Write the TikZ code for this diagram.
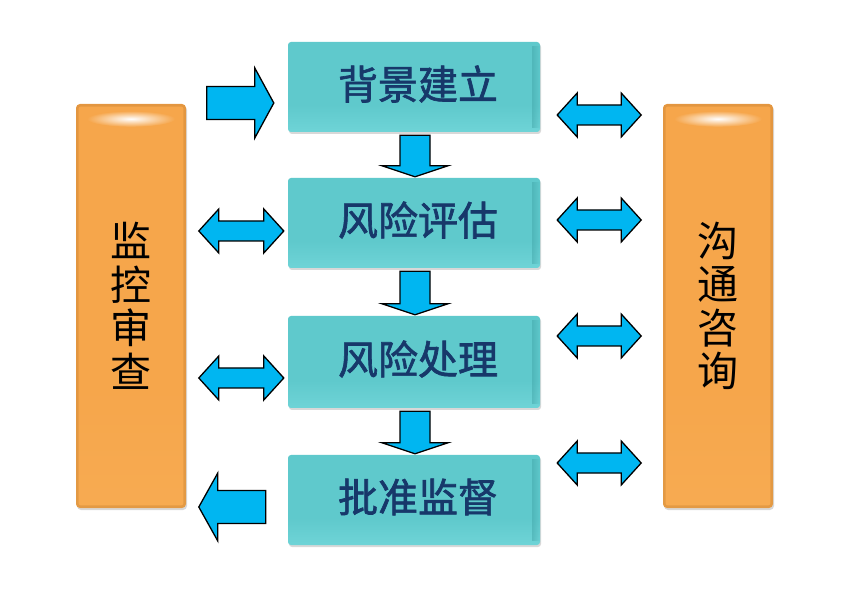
\documentclass[tikz,border=0pt]{standalone}
\usepackage{fontspec}
\newfontfamily\cjk{Noto Sans CJK SC}
\newfontfamily\cjkmed{Noto Sans CJK SC}[FakeBold=1.6]
\usetikzlibrary{calc,shadows,fadings}
\definecolor{arrblue}{HTML}{00B6F1}
\definecolor{navy}{HTML}{17386A}
\definecolor{bgA}{HTML}{9AEBEC}
\definecolor{bgB}{HTML}{7CDDE0}
\definecolor{bgC}{HTML}{5FC9CC}
\definecolor{bgD}{HTML}{B4F1F2}
\definecolor{bgE}{HTML}{3A9C9F}
\definecolor{ogA}{HTML}{FCC57A}
\definecolor{ogB}{HTML}{F8B15A}
\definecolor{ogC}{HTML}{F6A64B}
\definecolor{ogD}{HTML}{E2953F}
\definecolor{ogE}{HTML}{B87428}
\pgfdeclareverticalshading{bluegel}{100bp}{color(0bp)=(bgA); color(12bp)=(bgB); color(40bp)=(bgC); color(88bp)=(bgC); color(93bp)=(bgD); color(97bp)=(bgC); color(100bp)=(bgC)}
\pgfdeclareverticalshading{orangegel}{100bp}{color(0bp)=(ogA); color(6bp)=(ogB); color(40bp)=(ogC); color(96bp)=(ogC); color(100bp)=(ogD)}
\tikzfading[name=fuzzyglow, inner color=transparent!0, outer color=transparent!100]
\newcommand\dblarr[2]{\filldraw[blockarr] let \p1=(#1), \p2=(#2) in (\x1,\y1) -- (\x1+20pt,\y1+22pt) -- (\x1+20pt,\y1+10pt) -- (\x2-20pt,\y1+10pt) -- (\x2-20pt,\y1+22pt) -- (\x2,\y1) -- (\x2-20pt,\y1-22pt) -- (\x2-20pt,\y1-10pt) -- (\x1+20pt,\y1-10pt) -- (\x1+20pt,\y1-22pt) -- cycle;}
\newcommand\rarr[2]{\filldraw[blockarr] let \p1=(#1), \p2=(#2) in (\x1,\y1+16.5pt) -- (\x2-19pt,\y1+16.5pt) -- (\x2-19pt,\y1+35pt) -- (\x2,\y1) -- (\x2-19pt,\y1-35pt) -- (\x2-19pt,\y1-16.5pt) -- (\x1,\y1-16.5pt) -- cycle;}
\newcommand\larr[2]{\filldraw[blockarr] let \p1=(#1), \p2=(#2) in (\x1,\y1+16.5pt) -- (\x2+19pt,\y1+16.5pt) -- (\x2+19pt,\y1+34pt) -- (\x2,\y1) -- (\x2+19pt,\y1-34pt) -- (\x2+19pt,\y1-16.5pt) -- (\x1,\y1-16.5pt) -- cycle;}
\newcommand\darr[2]{\filldraw[blockarr] let \p1=(#1), \p2=(#2) in (\x1-15pt,\y1) -- (\x1-15pt,\y2+11pt) -- (\x1-33pt,\y2+11pt) -- (\x1,\y2) -- (\x1+33pt,\y2+11pt) -- (\x1+15pt,\y2+11pt) -- (\x1+15pt,\y1) -- cycle;}
\begin{document}
\begin{tikzpicture}[x=1pt,y=-1pt,
  stage/.style={rounded corners=3pt, minimum width=252pt, minimum height=90pt, inner sep=0pt,
    shading=bluegel, drop shadow={opacity=0.3, shadow xshift=1pt, shadow yshift=-2pt}},
  stagetext/.style={font=\cjkmed\fontsize{40}{40}\selectfont, text=navy},
  pillar/.style={rounded corners=4pt, minimum width=110pt, minimum height=404pt, inner sep=0pt,
    shading=orangegel, drop shadow={opacity=0.3, shadow xshift=1pt, shadow yshift=-2pt},
    font=\cjk\fontsize{41}{43.5}\selectfont, text=black, align=center},
  blockarr/.style={fill=arrblue, draw=black, line width=1.3pt, line join=miter}]
\useasboundingbox (0,0) rectangle (865,601);
\fill[white] (0,0) rectangle (865,601);
% stages
\node[stage] (b1) at (414,87) {};
\node[stage] (b2) at (414,223) {};
\node[stage, minimum height=92pt] (b3) at (414,362) {};
\node[stage] (b4) at (414,500) {};
\foreach \b/\t in {b1/背景建立,b2/风险评估,b3/风险处理,b4/批准监督}{
  \fill[bgE, path fading=east, opacity=0.4] ([xshift=-8pt,yshift=-4pt]\b.north east) rectangle ([yshift=4pt]\b.south east);
  \node[stagetext] (\b t) at ([xshift=4pt,yshift=3pt]\b.center) {\t};
}
% pillars
\node[pillar] (mon) at (131,306) {监\\控\\审\\查};
\node[pillar] (com) at (718,306) {沟\\通\\咨\\询};
\foreach \p in {mon,com}{
  \draw[ogE, line width=2.5pt, opacity=0.3, rounded corners=3pt]
    ([shift={(1.5pt,-1.5pt)}]\p.north west) rectangle ([shift={(-1.5pt,1.5pt)}]\p.south east);
  \fill[white, path fading=fuzzyglow] ([yshift=-15pt]\p.north) ellipse (44 and 8);
}
% down arrows
\darr{[xshift=1pt,yshift=-3pt]b1.south}{[xshift=1pt,yshift=1pt]b2.north}
\darr{[xshift=1pt,yshift=-3pt]b2.south}{[xshift=1pt,yshift=1pt]b3.north}
\darr{[xshift=1pt,yshift=-3pt]b3.south}{[xshift=1pt,yshift=1pt]b4.north}
% left side
\rarr{[xshift=-81pt,yshift=-16pt]b1.west}{[xshift=-14pt,yshift=-16pt]b1.west}
\dblarr{[xshift=-89pt,yshift=-8pt]b2.west}{[xshift=-4pt,yshift=-8pt]b2.west}
\dblarr{[xshift=-89pt,yshift=-16pt]b3.west}{[xshift=-4pt,yshift=-16pt]b3.west}
\larr{[xshift=-22pt,yshift=-7pt]b4.west}{[xshift=-89pt,yshift=-7pt]b4.west}
% right side
\dblarr{[xshift=17pt,yshift=-28pt]b1.east}{[xshift=101pt,yshift=-28pt]b1.east}
\dblarr{[xshift=17pt,yshift=3pt]b2.east}{[xshift=101pt,yshift=3pt]b2.east}
\dblarr{[xshift=17pt,yshift=26pt]b3.east}{[xshift=101pt,yshift=26pt]b3.east}
\dblarr{[xshift=17pt,yshift=37pt]b4.east}{[xshift=101pt,yshift=37pt]b4.east}
\end{tikzpicture}
\end{document}
